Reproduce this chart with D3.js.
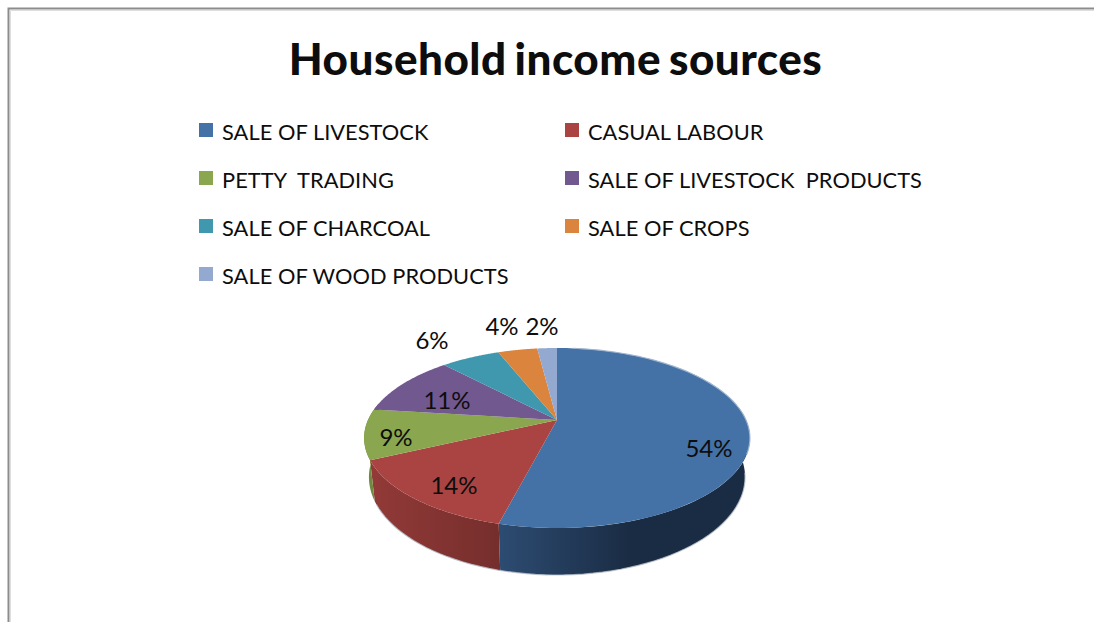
<!DOCTYPE html>
<html><head><meta charset="utf-8">
<script src="https://cdn.jsdelivr.net/npm/d3@7/dist/d3.min.js"></script>
<style>html,body{margin:0;padding:0;background:#fff}svg{display:block}text{font-family:Lato,"Open Sans",sans-serif;fill:#0d0d0d}</style>
</head><body><svg id="c" width="1094" height="622"></svg>
<script>
const categories=["SALE OF LIVESTOCK","CASUAL LABOUR","PETTY  TRADING","SALE OF LIVESTOCK  PRODUCTS","SALE OF CHARCOAL","SALE OF CROPS","SALE OF WOOD PRODUCTS"];
const values=[54,14,9,11,6,4,2];
const colors=["#4471a6","#a94442","#8aa64e","#71588f","#4098af","#db843d","#93a9d0"];
const wallLeft=["#2d4c72","#923a38","#6f8a3e","#5a4672","#337a8c","#af6a31","#75879f"];
const wallRight=["#1a2c44","#752e2c","#6f8a3e","#5a4672","#337a8c","#af6a31","#75879f"];
const title="Household income sources";

const svg=d3.select("#c");
const defs=svg.append("defs");
// frame
svg.append("path").attr("d","M8.5 622V8.5H1094").attr("fill","none").attr("stroke","#8c8c8c").attr("stroke-width",2);
svg.append("path").attr("d","M10.5 622V10.5H1094").attr("fill","none").attr("stroke","#dedede").attr("stroke-width",1);

svg.append("text").attr("x",555.5).attr("y",75).attr("text-anchor","middle").attr("font-size",44).attr("font-weight",900)
  .attr("letter-spacing",0.5).attr("word-spacing",-3).text(title);

// legend
const col=d3.scaleOrdinal().domain([0,1]).range([199,565]);
const row=d3.scaleLinear().domain([0,3]).range([123,267]);
const lg=svg.append("g").selectAll("g").data(categories).join("g")
  .attr("transform",(d,i)=>`translate(${col(i%2)},${row(Math.floor(i/2))})`);
lg.append("rect").attr("width",14).attr("height",14).attr("fill",(d,i)=>colors[i]);
lg.append("text").attr("x",23).attr("y",16.8).attr("font-size",21.8).attr("letter-spacing",0.05).style("white-space","pre").text(d=>d);

// projected pie: the circle is seen in perspective, so the apex is not the ellipse centre
const cx=557,cy=420,bx=189,by=86.4,k=0.2,depth=37.6,taper=0.975;
const proj=(t,r=1,down=0)=>{
  const X=Math.sin(t)*r,Y=Math.cos(t)*r,s=1/(1+k*Y);
  return [cx+bx*X*s*(down?taper:1),cy-by*Y*s+down*depth*s];
};
const arcs=d3.pie().sort(null).value(d=>d)(values);
const line=d3.line();
const samples=(a,b)=>d3.range(0,61).map(i=>a+(b-a)*i/60);

// walls: only the front (rim moving downwards on screen) is visible
const front=a=>{
  const lo=Math.max(a.startAngle,Math.PI/2-0.2),hi=Math.min(a.endAngle,Math.PI*1.5+0.2);
  return hi>lo?[lo,hi]:null;
};
const wg=svg.append("g");
arcs.forEach((a,i)=>{
  const f=front(a); if(!f) return;
  const top=samples(f[0],f[1]).map(t=>proj(t));
  const bot=samples(f[1],f[0]).map(t=>proj(t,1,1));
  const pts=top.concat(bot);
  const xs=d3.extent(pts,p=>p[0]);
  const id="w"+i;
  // blue wall gets darker towards the right, others towards the centre
  const g=defs.append("linearGradient").attr("id",id).attr("gradientUnits","userSpaceOnUse")
    .attr("x1",xs[0]).attr("x2",i===0?xs[0]+130:xs[1]).attr("y1",0).attr("y2",0);
  g.append("stop").attr("offset",0).attr("stop-color",wallLeft[i]);
  g.append("stop").attr("offset",1).attr("stop-color",wallRight[i]);
  wg.append("path").attr("d",line(pts)+"Z").attr("fill",`url(#${id})`);
});
// pale fringe along the lower rim and right rim
svg.append("path").attr("d",line(samples(Math.PI*0.55,Math.PI*1.35).map(t=>proj(t,1,1))))
  .attr("fill","none").attr("stroke","#b9c2cc").attr("stroke-width",1.2).attr("opacity",.8);

// top face
svg.append("g").selectAll("path").data(arcs).join("path")
  .attr("d",a=>line([[cx,cy]].concat(samples(a.startAngle,a.endAngle).map(t=>proj(t))))+"Z")
  .attr("fill",(d,i)=>colors[i]);
svg.append("path").attr("d",line(samples(0.1,Math.PI*0.62).map(t=>proj(t))))
  .attr("fill","none").attr("stroke","#9fb4cf").attr("stroke-width",1.2);

// value labels
const labelSpots=[[709,449],[454,486],[396,438],[447,401],[432,341],[502,327],[542,327]];
svg.append("g").selectAll("text").data(values).join("text")
  .attr("x",(d,i)=>labelSpots[i][0]).attr("y",(d,i)=>labelSpots[i][1]).attr("dy","0.35em")
  .attr("text-anchor","middle").attr("font-size",24).text(d=>d+"%");
</script></body></html>
